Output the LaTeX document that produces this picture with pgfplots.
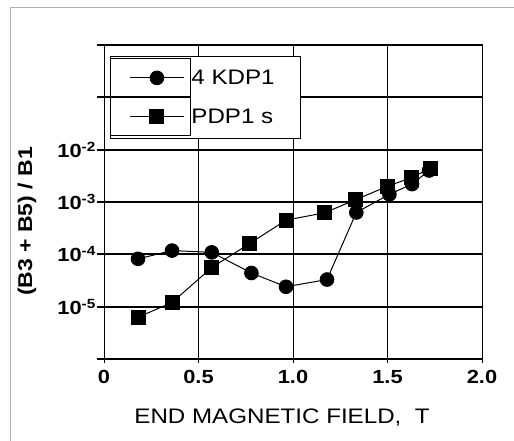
\documentclass[border=0pt]{standalone}
\usepackage{fontspec}
\setmainfont{Liberation Sans}[FakeStretch=1.15]
\usepackage{pgfplots}
\pgfplotsset{compat=1.18}

\begin{document}
\begin{tikzpicture}[x=1pt,y=1pt]
\useasboundingbox (0,0) rectangle (514,441);
% outer frame of the figure
\draw[gray!60, line width=0.8pt] (10,-5) -- (10,434) -- (520,434);
\begin{axis}[
    at={(104pt,82pt)}, anchor=south west,
    scale only axis,
    width=378pt, height=314pt,
    xmin=0, xmax=2,
    ymode=log, ymin=1e-6, ymax=1,
    xtick={0,0.5,1,1.5,2},
    xticklabels={0,0.5,1.0,1.5,2.0},
    ytick={1e-6,1e-5,1e-4,1e-3,1e-2,1e-1,1},
    yticklabels={{},{10\textsuperscript{-5}},{10\textsuperscript{-4}},{10\textsuperscript{-3}},{10\textsuperscript{-2}},{},{}},
    yminorticks=false,
    tick pos=left,
    tick align=outside,
    major tick length=7pt,
    xtick style={line width=1pt, black, /pgfplots/major tick length=4pt},
    ytick style={line width=2pt, black},
    ticklabel style={font=\fontsize{19}{22}\selectfont\bfseries},
    yticklabel style={inner xsep=1pt},
    xticklabel style={inner ysep=4pt},
    xmajorgrids, ymajorgrids,
    x grid style={black, line width=1pt},
    y grid style={black, line width=2pt},
    axis line style={black, line width=1pt},
    legend style={at={(axis description cs:0.016,0.965)}, anchor=north west,
        draw=black, line width=0.8pt, font=\fontsize{21}{25}\selectfont,
        inner xsep=0pt, inner ysep=2pt, row sep=0pt, column sep=0pt,
        nodes={inner sep=0pt}},
    legend cell align=left,
    legend image code/.code={
        \path (0pt,-19pt) rectangle (80pt,19pt);
        \draw[mark repeat=2, mark phase=2, #1] plot coordinates {(19pt,0pt) (46pt,0pt) (73pt,0pt)};},
]
\addplot[black, line width=1pt, mark=*, mark size=6.8pt, mark options={solid, fill=black}] coordinates {
    (0.18, 8.2e-5)
    (0.36, 1.18e-4)
    (0.57, 1.09e-4)
    (0.78, 4.4e-5)
    (0.963, 2.4e-5)
    (1.18, 3.3e-5)
    (1.335, 6.3e-4)
    (1.51, 1.4e-3)
    (1.63, 2.2e-3)
    (1.72, 4.0e-3)
};
\addlegendentry{\makebox[109pt][l]{4 KDP1}}
\addplot[black, line width=1pt, mark=square*, mark size=7pt, mark options={solid, fill=black}] coordinates {
    (0.18, 6.3e-6)
    (0.36, 1.2e-5)
    (0.57, 5.6e-5)
    (0.77, 1.6e-4)
    (0.963, 4.5e-4)
    (1.166, 6.2e-4)
    (1.33, 1.1e-3)
    (1.5, 2.0e-3)
    (1.625, 2.9e-3)
    (1.725, 4.4e-3)
};
\addlegendentry{\makebox[109pt][l]{PDP1 s}}
\end{axis}
% axis titles
\node[font=\fontsize{21}{24}\selectfont] at (282,23) {END MAGNETIC FIELD,\ \ T};
\node[rotate=90, font=\fontsize{20}{24}\selectfont\bfseries] at (27,219.5) {(B3 + B5) / B1};
\end{tikzpicture}
\end{document}
